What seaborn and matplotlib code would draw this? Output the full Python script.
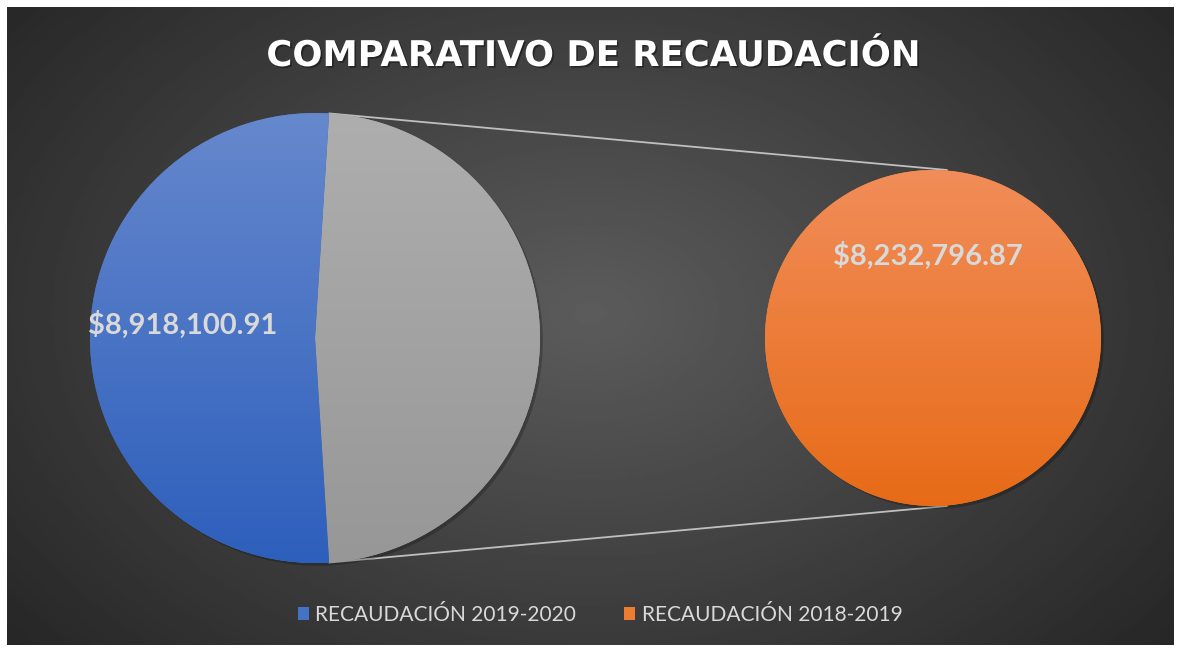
import numpy as np
import matplotlib
matplotlib.use("Agg")
import matplotlib.pyplot as plt
import matplotlib.patheffects as pe
from matplotlib.patches import Patch
import seaborn as sns

# chart data
title = "COMPARATIVO DE RECAUDACIÓN"
series_names = ["RECAUDACIÓN 2019-2020", "RECAUDACIÓN 2018-2019"]
series_values = [8918100.91, 8232796.87]
series_colors = ["#4472c4", "#ed7d31"]
other_color = "#a5a5a5"

sns.set_style("dark")
plt.rcParams["font.family"] = ["Lato", "DejaVu Sans"]

W, H = 1180, 649
fig = plt.figure(figsize=(W / 100, H / 100), dpi=100, facecolor="white")
ax = fig.add_axes([0, 0, 1, 1])
ax.set_xlim(0, W)
ax.set_ylim(0, H)
ax.set_autoscale_on(False)
ax.axis("off")

# dark radial background
gx = np.linspace(0, 1, 500)
gy = np.linspace(0, 1, 280)
X, Y = np.meshgrid(gx, gy)
d = np.sqrt(((X - 0.5) / 0.62) ** 2 + ((Y - 0.52) / 0.78) ** 2)
shade = np.clip(0.36 - 0.2 * d, 0.13, 0.4)
ax.imshow(shade, extent=(7, 1174, 4, 642), origin="lower", cmap="gray",
          vmin=0, vmax=1, aspect="auto", zorder=0, interpolation="bilinear")


def gradient_fill(patch, extent, top, bottom, z):
    c1 = np.array(matplotlib.colors.to_rgb(top))
    c2 = np.array(matplotlib.colors.to_rgb(bottom))
    t = np.linspace(0, 1, 256)[:, None, None]
    arr = c1 * (1 - t) + c2 * t
    im = ax.imshow(arr, extent=extent, origin="upper", aspect="auto",
                   zorder=z, interpolation="bilinear")
    im.set_clip_path(patch)


shadow = [pe.SimplePatchShadow(offset=(2, -2), shadow_rgbFace="black", alpha=0.22), pe.Normal()]

# main pie: first series + "other" slice (second series)
cx, cy, R = 315, 311, 225
other_share = series_values[1] / sum(series_values)
half = other_share * 360 / 2
wedges, _ = ax.pie([series_values[1], series_values[0]], colors=[other_color, series_colors[0]],
                   startangle=-half, counterclock=True, center=(cx, cy), radius=R,
                   frame=True, wedgeprops=dict(linewidth=0, zorder=2))
for w in wedges:
    w.set_path_effects(shadow)
ext = (cx - R, cx + R, cy - R, cy + R)
gradient_fill(wedges[0], ext, "#aeaeae", "#979797", 3)
gradient_fill(wedges[1], ext, "#6688cd", "#2d5fbc", 3)

# secondary pie: breakdown of "other"
cx2, cy2, R2 = 933, 311, 168
wedges2, _ = ax.pie([series_values[1]], colors=[series_colors[1]], startangle=90,
                    center=(cx2, cy2), radius=R2, frame=True,
                    wedgeprops=dict(linewidth=0, zorder=2))
wedges2[0].set_path_effects(shadow)
gradient_fill(wedges2[0], (cx2 - R2, cx2 + R2, cy2 - R2, cy2 + R2), "#f18d59", "#e76b17", 3)

# connector lines
for ang, sy in [(half, 1), (-half, -1)]:
    a = np.deg2rad(ang)
    ax.plot([cx + R * np.cos(a), cx2 + 14], [cy + R * np.sin(a), cy2 + sy * R2],
            color="#bfbfbf", lw=1.3, zorder=1, solid_capstyle="round")

# data labels
lab_style = dict(color="#d9d9d9", fontsize=21, fontweight="bold", ha="center", va="center", zorder=5)
mid = np.deg2rad(half + (360 - 2 * half) / 2)
ax.text(cx + 0.59 * R * np.cos(mid), cy + 0.59 * R * np.sin(mid) + 0.06 * R,
        f"${series_values[0]:,.2f}", **lab_style)
ax.text(cx2 - 5, cy2 + 0.49 * R2, f"${series_values[1]:,.2f}", **lab_style)

# title
fig.text(593 / W, 1 - 56 / H, title, ha="center", va="center", fontsize=25.5,
         fontweight="bold", color="white", family=["DejaVu Sans"],
         path_effects=[pe.SimplePatchShadow(offset=(1.2, -1.2), shadow_rgbFace="black", alpha=0.4),
                       pe.Normal()])

# legend
handles = [Patch(facecolor=c, edgecolor="none") for c in series_colors]
fig.legend(handles, series_names, loc="center", bbox_to_anchor=(600 / W, 1 - 615 / H),
           ncol=2, frameon=False, fontsize=15, labelcolor="#d9d9d9",
           handlelength=0.55, handleheight=0.55, handletextpad=0.3, columnspacing=2.3)

ax.set_xlim(0, W)
ax.set_ylim(0, H)
ax.set_aspect("equal")
fig.savefig("out.png", dpi=100, facecolor="white")
